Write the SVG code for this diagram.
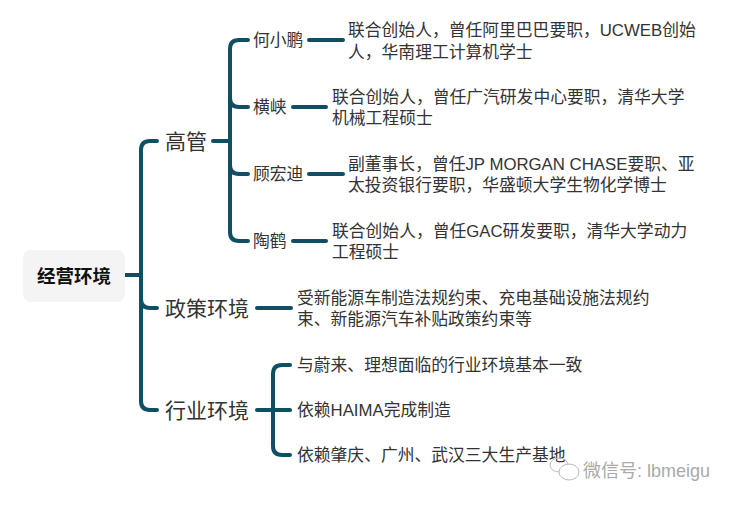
<svg xmlns="http://www.w3.org/2000/svg" width="736" height="505" viewBox="0 0 736 505">
<style>
text{font-family:"Liberation Sans","Noto Sans CJK SC",sans-serif;fill:#333;dominant-baseline:central}
.root{font-size:18.5px;font-weight:bold;fill:#111;text-anchor:middle}
.l1{font-size:21px}
.l2{font-size:16.8px}
.d{font-size:16.8px}
.c{fill:none;stroke:#0f4f63;stroke-width:4;stroke-linecap:round;stroke-linejoin:round}
.wm{font-size:18px;fill:#aaa}
</style>
<rect width="736" height="505" fill="#fff"/>
<g id="connectors">
<path class="c" d="M125,275 H141"/>
<path class="c" d="M157,141 H150 Q141,141 141,150 V401 Q141,410 150,410 H157"/>
<path class="c" d="M141,299 Q141,308 150,308 H157"/>
<path class="c" d="M213,141 H230"/>
<path class="c" d="M248,40 H239 Q230,40 230,49 V232 Q230,241 239,241 H248"/>
<path class="c" d="M230,98 Q230,107 239,107 H248"/>
<path class="c" d="M230,165 Q230,174 239,174 H248"/>
<path class="c" d="M309,40 H343"/>
<path class="c" d="M293,107 H326"/>
<path class="c" d="M309,174 H343"/>
<path class="c" d="M293,241 H326"/>
<path class="c" d="M257,308 H291"/>
<path class="c" d="M257,410 H290"/>
<path class="c" d="M290,365 H282 Q273,365 273,374 V446 Q273,455 282,455 H290"/>
</g>
<g id="root">
<rect x="23" y="250" width="102" height="52" rx="8" fill="#f4f4f4"/>
<text class="root" x="74" y="276">经营环境</text>
</g>
<g id="gaoguan"><text class="l1" x="165" y="141">高管</text></g>
<g id="zhengce"><text class="l1" x="165" y="308">政策环境</text></g>
<g id="hangye"><text class="l1" x="165" y="410">行业环境</text></g>
<g id="hexiaopeng"><text class="l2" x="253" y="40">何小鹏</text></g>
<g id="hengxia"><text class="l2" x="253" y="107">横峡</text></g>
<g id="guhongdi"><text class="l2" x="253" y="174">顾宏迪</text></g>
<g id="taohe"><text class="l2" x="253" y="241">陶鹤</text></g>
<g id="desc-he"><text class="d" x="348" y="30">联合创始人，曾任阿里巴巴要职，UCWEB创始</text><text class="d" x="348" y="52">人，华南理工计算机学士</text></g>
<g id="desc-heng"><text class="d" x="332" y="97">联合创始人，曾任广汽研发中心要职，清华大学</text><text class="d" x="332" y="118">机械工程硕士</text></g>
<g id="desc-gu"><text class="d" x="348" y="164">副董事长，曾任JP MORGAN CHASE要职、亚</text><text class="d" x="348" y="185">太投资银行要职，华盛顿大学生物化学博士</text></g>
<g id="desc-tao"><text class="d" x="332" y="231">联合创始人，曾任GAC研发要职，清华大学动力</text><text class="d" x="332" y="252">工程硕士</text></g>
<g id="desc-zc"><text class="d" x="297" y="298">受新能源车制造法规约束、充电基础设施法规约</text><text class="d" x="297" y="319">束、新能源汽车补贴政策约束等</text></g>
<g id="hy1"><text class="d" x="297" y="365">与蔚来、理想面临的行业环境基本一致</text></g>
<g id="hy2"><text class="d" x="297" y="410">依赖HAIMA完成制造</text></g>
<g id="hy3"><text class="d" x="297" y="455">依赖肇庆、广州、武汉三大生产基地</text></g>
<g id="watermark">
<ellipse cx="559" cy="465" rx="9" ry="7" fill="none" stroke="#bbb" stroke-width="1"/>
<ellipse cx="569" cy="472" rx="10" ry="8" fill="#fff" stroke="#bbb" stroke-width="1"/>
<text class="wm" x="583" y="471">微信号: lbmeigu</text>
</g>
</svg>
